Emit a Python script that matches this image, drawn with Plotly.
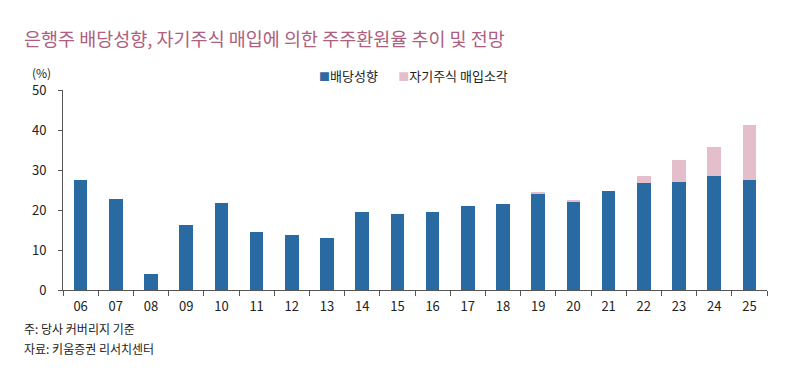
import plotly.graph_objects as go

years = ["06","07","08","09","10","11","12","13","14","15","16","17","18","19","20","21","22","23","24","25"]
dividend = [27.5,22.75,4.0,16.25,21.75,14.5,13.75,13.0,19.5,19.0,19.5,21.0,21.5,24.0,21.9,24.75,26.75,26.9,28.6,27.5]
buyback = [0,0,0,0,0,0,0,0,0,0,0,0,0,0.5,0.5,0,1.75,5.5,7.1,13.8]

FONT = "Noto Sans CJK KR"
BLUE = "#2A6AA2"
PINK = "#E5BECB"

fig = go.Figure()
fig.add_bar(x=years, y=dividend, name="배당성향", marker=dict(color=BLUE, line=dict(width=0)))
fig.add_bar(x=years, y=buyback, name="자기주식 매입소각", marker=dict(color=PINK, line=dict(width=0)))

# page has an 8px body margin: figure coords = page coords - 8
fig.update_layout(
    barmode="stack", bargap=0.61,
    width=792, height=372,
    margin=dict(l=55, r=33, t=82, b=90),
    paper_bgcolor="white", plot_bgcolor="white",
    font=dict(family=FONT, size=13, color="#222"),
    showlegend=False,
    xaxis=dict(type="category", showline=True, linecolor="#555", linewidth=1,
               ticks="outside", tickson="boundaries", ticklen=5, tickcolor="#555",
               showgrid=False, tickfont=dict(size=13), ticklabelstandoff=4),
    yaxis=dict(range=[0, 50], dtick=10, showline=True, linecolor="#555", linewidth=1,
               ticks="outside", ticklen=4, tickcolor="#555", showgrid=False,
               zeroline=False, tickfont=dict(size=13), ticklabelstandoff=9),
    annotations=[
        dict(text="은행주 배당성향, 자기주식 매입에 의한 주주환원율 추이 및 전망", xref="paper", yref="paper",
             x=0, y=1.0, xanchor="left", yanchor="middle", xshift=-41, yshift=52, showarrow=False,
             font=dict(size=18.5, color="#AE5E80", family=FONT)),
        dict(text="(%)", xref="paper", yref="paper", x=0, y=1.0, xanchor="center", yanchor="middle",
             xshift=-22, yshift=18, showarrow=False, font=dict(size=12, color="#222")),
        dict(text=f"<span style='color:{BLUE};font-size:11px'>■</span>배당성향"
                  f"       <span style='color:{PINK};font-size:11px'>■</span>자기주식 매입소각",
             xref="paper", yref="paper", x=0, y=1.0, xanchor="left", yanchor="middle",
             xshift=254, yshift=15, showarrow=False, font=dict(size=13, color="#222")),
        dict(text="주: 당사 커버리지 기준", xref="paper", yref="paper", x=0, y=0, xanchor="left",
             yanchor="middle", xshift=-41, yshift=-38, showarrow=False, font=dict(size=12, color="#222")),
        dict(text="자료: 키움증권 리서치센터", xref="paper", yref="paper", x=0, y=0, xanchor="left",
             yanchor="middle", xshift=-41, yshift=-58, showarrow=False, font=dict(size=12, color="#222")),
    ],
)
fig.write_html("out.html")
